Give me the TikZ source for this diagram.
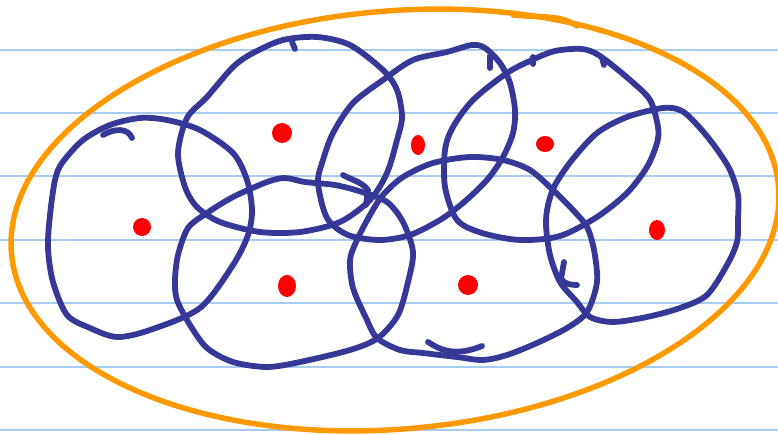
\documentclass[tikz,border=0pt]{standalone}
\usepackage{tikz}
\definecolor{paperblue}{HTML}{A6CCF2}
\definecolor{blobblue}{HTML}{363897}
\definecolor{setorange}{HTML}{FF9900}
\definecolor{dotred}{HTML}{FF0000}
\begin{document}
\begin{tikzpicture}[x=0.02cm, y=-0.02cm,
	paperline/.style={paperblue, line width=1.1pt},
	blob/.style={blobblue, line width=3.3pt, line cap=round, line join=round},
	setline/.style={setorange, line width=3.1pt, line cap=round, line join=round},
	centre/.style={dotred}]
	\useasboundingbox (0,0) rectangle (778,435);
	\fill[white] (0,0) rectangle (778,435);

	\foreach \y in {50,113,176,240,303,367,430}
		\draw[paperline] (0,\y) -- (778,\y);

	\draw[setline, rotate around={5:(395,220)}] (395,220) ellipse [x radius=385, y radius=209];
	\draw[setline] (513,15) .. controls (540,18) and (560,14) .. (577,26);

	\draw[blob] plot[smooth cycle] coordinates {(110,125) (140,118) (167,120) (200,130) (233,153) (247,180) (252,210) (248,235) (233,265) (200,308) (150,330) (117,337) (90,328) (67,315) (53,282) (48,248) (50,215) (55,180) (62,163) (83,140)};
	\draw[blob] (103,135) .. controls (115,128) and (128,128) .. (132,138);

	\draw[blob] plot[smooth cycle] coordinates {(185,187) (178,153) (187,118) (207,97) (233,67) (253,53) (283,40) (317,37) (350,45) (383,70) (397,90) (402,117) (397,140) (387,173) (370,200) (340,222) (300,232) (260,232) (220,222) (197,207)};
	\draw[blob] (292,42) -- (295,49);

	\draw[blob] plot[smooth cycle] coordinates {(318,183) (323,160) (333,133) (353,103) (383,80) (413,60) (447,52) (472,45) (485,48) (500,63) (510,83) (515,110) (513,133) (503,157) (487,180) (463,203) (440,220) (410,235) (380,240) (348,235) (327,218)};
	\draw[blob] (490,56) -- (490,68);

	\draw[blob] plot[smooth cycle] coordinates {(445,187) (445,150) (453,127) (473,100) (507,73) (532,60) (555,51) (582,49) (600,56) (630,80) (650,100) (658,127) (657,143) (647,167) (627,193) (597,217) (560,236) (520,240) (482,233) (457,220)};
	\draw[blob] (533,57) -- (533,64);
	\draw[blob] (602,58) -- (604,65);

	\draw[blob] plot[smooth cycle] coordinates {(663,108) (682,111) (700,128) (716,148) (730,170) (738,195) (738,220) (737,242) (727,265) (707,295) (680,308) (647,317) (613,322) (590,317) (577,302) (560,282) (550,255) (546,225) (548,205) (555,185) (572,160) (597,133) (627,117)};
	\draw[blob] (564,262) -- (561,279) .. controls (565,284) and (570,285) .. (577,285);

	\draw[blob] plot[smooth cycle] coordinates {(470,157) (503,160) (530,170) (553,190) (573,210) (587,227) (594,250) (597,282) (587,312) (567,328) (537,343) (507,355) (483,360) (457,357) (423,353) (400,350) (377,338) (366,318) (353,288) (350,260) (357,240) (370,215) (383,195) (403,177) (433,163)};
	\draw[blob] (428,342) .. controls (440,350) and (455,357) .. (482,346);

	\draw[blob] plot[smooth cycle] coordinates {(207,213) (233,197) (267,182) (285,178) (305,182) (335,185) (362,192) (387,202) (403,222) (413,252) (408,282) (398,315) (378,338) (350,350) (300,362) (267,367) (233,362) (207,348) (190,325) (177,300) (175,280) (178,255) (188,228)};
	\draw[blob] (343,175) .. controls (352,180) and (362,182) .. (368,190) -- (366,205);

	\fill[centre] (142,227) circle[x radius=9, y radius=9];
	\fill[centre] (282,133) circle[x radius=10, y radius=10];
	\fill[centre] (418,145) circle[x radius=7, y radius=10];
	\fill[centre] (545,144) circle[x radius=9, y radius=8];
	\fill[centre] (657,230) circle[x radius=8, y radius=10];
	\fill[centre] (287,286) circle[x radius=9, y radius=11];
	\fill[centre] (468,285) circle[x radius=10, y radius=10];
\end{tikzpicture}
\end{document}
